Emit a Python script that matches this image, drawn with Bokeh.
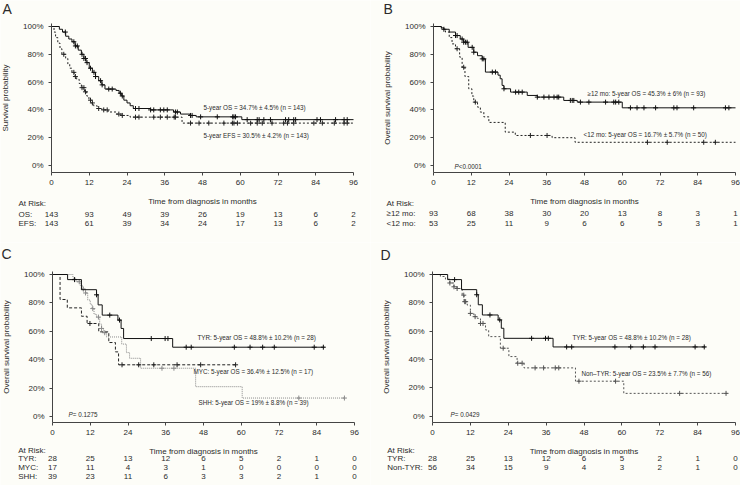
import numpy as np
from bokeh.plotting import figure
from bokeh.models import Range1d, LinearAxis, FixedTicker, NumeralTickFormatter
from bokeh.layouts import column, row
from bokeh.embed import file_html
from bokeh.resources import INLINE
from bokeh.core.properties import value

# ---------------- data ----------------
month_ticks = [0, 12, 24, 36, 48, 60, 72, 84, 96]
pct_ticks = [0, 0.2, 0.4, 0.6, 0.8, 1.0]

# Panel A: OS and EFS, whole cohort
a_os_t = [0, 2.5, 3.5, 4.5, 5.5, 6.5, 7.5, 8.5, 9.5, 10.3, 11, 12, 13, 14, 15, 16, 17, 20.5, 21.5, 22.3, 23, 24, 25, 26, 31.5, 38.8, 41, 44, 46, 60.5]
a_os_s = [1.0, 0.98, 0.96, 0.93, 0.91, 0.89, 0.86, 0.83, 0.80, 0.77, 0.74, 0.70, 0.67, 0.64, 0.61, 0.58, 0.55, 0.54, 0.52, 0.50, 0.47, 0.45, 0.43, 0.41, 0.40, 0.385, 0.37, 0.36, 0.35, 0.33]
a_os_end = 96
a_os_cens = [4.4, 7.1, 7.6, 8.2, 9.7, 10.3, 10.8, 11.3, 12.4, 13.5, 14, 15.6, 16.1, 18.2, 19.3, 21.9, 22.5, 26.7, 27.8, 31.5, 32.5, 34.6, 35.7, 36.8, 39.4, 40, 44.2, 44.7, 47.4, 52.7, 57.6, 58, 58.5, 62.2, 65.4, 66, 67.5, 69.6, 74.4, 75.4, 77, 77.6, 84.4, 85.5, 90.3, 93, 94]
a_efs_t = [0, 0.8, 1.3, 2.0, 2.7, 3.3, 4.5, 5.2, 5.8, 6.5, 7.3, 8.0, 8.8, 9.5, 10.5, 11.2, 11.9, 12.7, 13.4, 14.5, 16.0, 18.0, 20.5, 22.5, 25.0, 41.5]
a_efs_s = [1.0, 0.96, 0.92, 0.88, 0.84, 0.80, 0.77, 0.73, 0.70, 0.67, 0.64, 0.62, 0.59, 0.56, 0.53, 0.50, 0.47, 0.45, 0.43, 0.41, 0.40, 0.385, 0.37, 0.36, 0.348, 0.305]
a_efs_end = 96
a_efs_cens = [3.9, 7.1, 7.6, 9.7, 10.3, 10.8, 12.4, 13.0, 15.0, 16.6, 17.7, 21.4, 22.5, 26.7, 27.8, 32.5, 34.6, 36.8, 39.0, 39.4, 44.2, 46.9, 50.0, 54.8, 57.5, 58.0, 59.1, 63.3, 65.4, 67.0, 70.1, 73.8, 75.0, 77.0, 83.4, 86.1, 89.9, 93.0, 94.0]
a_risk_labels = ["OS:", "EFS:"]
a_risk = [[143, 93, 49, 39, 26, 19, 13, 6, 2],
          [143, 61, 39, 34, 24, 17, 13, 6, 2]]
a_notes = ["5-year OS = 34.7% \u00b1 4.5% (n = 143)", "5-year EFS = 30.5% \u00b1 4.2% (n = 143)"]

# Panel B: by age at diagnosis
b_ge_t = [0, 2.5, 3.3, 5.0, 7.0, 8.5, 9.6, 11.0, 12.8, 14.0, 15.5, 16.5, 20.5, 21.2, 21.8, 22.4, 24.5, 29.8, 33.0, 41.4, 45.7, 60.0]
b_ge_s = [1.0, 0.99, 0.98, 0.96, 0.935, 0.91, 0.887, 0.85, 0.815, 0.79, 0.767, 0.672, 0.65, 0.624, 0.576, 0.552, 0.528, 0.504, 0.492, 0.468, 0.456, 0.415]
b_ge_end = 96
b_ge_cens = [3.3, 7.0, 7.5, 9.1, 9.6, 10.2, 10.7, 12.3, 12.8, 15.5, 16.0, 18.7, 19.7, 22.4, 26.1, 27.1, 28.2, 33.0, 35.1, 36.7, 38.3, 39.3, 39.8, 43.5, 44.1, 44.6, 46.7, 49.4, 54.7, 57.3, 57.9, 58.9, 62.6, 64.7, 66.9, 70.6, 76.4, 77.4, 82.7, 92.8, 93.9]
b_lt_t = [0, 2.5, 3.8, 5.0, 5.9, 7.0, 8.3, 9.1, 10.0, 11.2, 12.2, 12.8, 14.0, 14.9, 16.0, 17.6, 22.8, 26.0, 37.7, 45.0]
b_lt_s = [1.0, 0.98, 0.96, 0.92, 0.875, 0.84, 0.78, 0.707, 0.64, 0.552, 0.50, 0.456, 0.42, 0.384, 0.35, 0.31, 0.24, 0.216, 0.20, 0.167]
b_lt_end = 96
b_lt_cens = [7.5, 9.6, 13.3, 30.8, 36.1, 68.0, 74.3, 85.9, 89.6]
b_risk_labels = ["\u226512 mo:", "<12 mo:"]
b_risk = [[93, 68, 38, 30, 20, 13, 8, 3, 1],
          [53, 25, 11, 9, 6, 6, 5, 3, 1]]
b_notes = ["\u226512 mo: 5-year OS = 45.3% \u00b1 6% (n = 93)", "<12 mo: 5-year OS = 16.7% \u00b1 5.7% (n = 50)"]
b_p = "<0.0001"

# Panel C: TYR / MYC / SHH
tyr_t = [0, 4.8, 9.2, 14.0, 14.5, 15.8, 20.8, 21.8, 22.6, 38.2]
tyr_s = [1.0, 0.964, 0.893, 0.857, 0.786, 0.714, 0.679, 0.62, 0.549, 0.488]
tyr_end = 86.5
tyr_cens = [7.0, 14.0, 18.2, 21.3, 31.4, 35.8, 36.7, 42.5, 44.1, 57.8, 62.8, 66.8, 70.5, 83.2, 86.1]
myc_t = [0, 2.4, 4.7, 9.2, 11.0, 14.7, 17.9, 20.0, 21.0]
myc_s = [1.0, 0.824, 0.765, 0.706, 0.655, 0.596, 0.521, 0.455, 0.364]
myc_end = 58.2
myc_cens = [11.9, 22.1, 27.4, 32.2, 39.6, 47.1, 58.2]
shh_t = [0, 6.5, 7.5, 8.8, 9.6, 10.5, 11.2, 12.0, 12.6, 13.2, 14.0, 15.0, 15.6, 16.2, 17.2, 22.0, 23.5, 24.5, 28.0, 45.5, 60.3]
shh_s = [1.0, 0.974, 0.949, 0.923, 0.897, 0.87, 0.82, 0.79, 0.76, 0.72, 0.70, 0.65, 0.62, 0.59, 0.56, 0.51, 0.45, 0.41, 0.34, 0.21, 0.13]
shh_end = 93.0
shh_cens = [8.5, 9.8, 10.5, 12.8, 14.6, 15.6, 16.6, 34.8, 38.6, 78.3, 92.8]
c_risk_labels = ["TYR:", "MYC:", "SHH:"]
c_risk = [[28, 25, 13, 12, 6, 5, 2, 1, 0],
          [17, 11, 4, 3, 1, 0, 0, 0, 0],
          [39, 23, 11, 6, 3, 3, 2, 1, 0]]
c_notes = ["TYR: 5-year OS = 48.8% \u00b1 10.2% (n = 28)",
           "MYC: 5-year OS = 36.4% \u00b1 12.5% (n = 17)",
           "SHH: 5-year OS = 19% \u00b1 8.8% (n = 39)"]
c_p = " = 0.1275"

# Panel D: TYR vs non-TYR
ntyr_t = [0, 2.5, 4.1, 5.5, 6.8, 7.8, 9.4, 10.0, 11.0, 12.0, 13.1, 14.2, 15.2, 16.8, 17.8, 21.5, 24.2, 26.8, 29.0, 45.3, 60.6]
ntyr_s = [1.0, 0.986, 0.967, 0.94, 0.913, 0.901, 0.854, 0.808, 0.784, 0.725, 0.702, 0.69, 0.654, 0.608, 0.561, 0.479, 0.42, 0.373, 0.34, 0.246, 0.16]
ntyr_end = 93.4
ntyr_cens = [5.5, 6.8, 7.8, 9.9, 10.2, 10.5, 12.0, 13.5, 15.2, 16.0, 22.4, 27.0, 28.4, 32.5, 35.2, 38.9, 40.0, 46.4, 58.0, 78.3, 93.0]
d_risk_labels = ["TYR:", "Non-TYR:"]
d_risk = [[28, 25, 13, 12, 6, 5, 2, 1, 0],
          [56, 34, 15, 9, 4, 3, 2, 1, 0]]
d_notes = ["TYR: 5-year OS = 48.8% \u00b1 10.2% (n = 28)",
           "Non\u2013TYR: 5-year OS = 23.5% \u00b1 7.7% (n = 56)"]
d_p = " = 0.0429"

# ---------------- styling / layout ----------------
W = 370
BG = "#fdfdf8"
TXT = "#2b2b2b"
FONT = value("Liberation Sans")


def make_panel(ox, oy, h, x0, x96, y100, y0, yaxis_line, ylabel):
    lx0 = x0 - ox
    lx96 = x96 - ox
    ppm = (lx96 - lx0) / 96.0
    ly100 = y100 - oy
    ly0 = y0 - oy
    ppu = ly0 - ly100
    xr = Range1d(-lx0 / ppm, (W - lx0) / ppm)
    yr = Range1d(1 - (h - ly100) / ppu, 1 + ly100 / ppu)
    p = figure(width=W, height=h, x_range=xr, y_range=yr,
               x_axis_location=None, y_axis_location=None,
               min_border=0, toolbar_location=None, output_backend="svg",
               background_fill_color=BG, border_fill_color=BG,
               outline_line_color=None)
    p.grid.visible = False

    def mx(X):
        return (X - x0) / (x96 - x0) * 96.0

    def sy(Y):
        return (y0 - Y) / (y0 - y100)

    axy = sy(yaxis_line)
    xax = LinearAxis(fixed_location=axy, bounds=(0, 96),
                     ticker=FixedTicker(ticks=month_ticks),
                     axis_label="Time from diagnosis in months")
    yax = LinearAxis(fixed_location=0, bounds=(axy, 1.02),
                     ticker=FixedTicker(ticks=pct_ticks),
                     formatter=NumeralTickFormatter(format="0%"),
                     axis_label=ylabel)
    for ax in (xax, yax):
        ax.axis_line_color = "#444444"
        ax.major_tick_line_color = "#444444"
        ax.minor_tick_line_color = None
        ax.major_tick_in = 0
        ax.major_tick_out = 3
        ax.major_label_text_font = "Liberation Sans"
        ax.major_label_text_font_size = "8px"
        ax.major_label_text_color = TXT
        ax.axis_label_text_font = "Liberation Sans"
        ax.axis_label_text_font_size = "8px"
        ax.axis_label_text_font_style = "normal"
        ax.axis_label_text_color = TXT
    xax.major_label_standoff = 4
    xax.axis_label_standoff = 9
    yax.major_label_standoff = 5
    yax.axis_label_standoff = 10
    p.add_layout(xax, "below")
    p.add_layout(yax, "left")
    return p, mx, sy


def km(p, t, s, end, cens, color, dash, width=1.0):
    xs = list(t) + [end]
    ys = list(s) + [s[-1]]
    p.step(xs, ys, mode="after", line_color=color, line_dash=dash, line_width=width)
    ta = np.array(t, dtype=float)
    sa = np.array(s, dtype=float)
    idx = np.searchsorted(ta, np.array(cens, dtype=float), side="right") - 1
    p.scatter(cens, sa[idx], marker="cross", size=5, line_color=color, line_width=1)


def txt(p, x, y, t, size="6.3px", align="left", style="normal", color=TXT, xoff=0):
    p.text(x=[x], y=[y], text=[t], text_font=FONT, text_font_size=size,
           text_align=align, text_baseline="middle", text_color=color,
           text_font_style=style, x_offset=xoff)


def risk_table(p, mx, sy, lx, y_head, labels, rows, ys):
    txt(p, mx(lx), sy(y_head), "At Risk:", size="8px")
    for lab, vals, yy in zip(labels, rows, ys):
        txt(p, mx(lx), sy(yy), lab, size="8px")
        p.text(x=month_ticks, y=[sy(yy)] * len(vals), text=[str(v) for v in vals],
               text_font=FONT, text_font_size="8px", text_align="center",
               text_baseline="middle", text_color=TXT)


H_TOP, H_BOT = 242, 243
OY_BOT = 242

# ---- Panel A
pa, mxa, sya = make_panel(0, 0, H_TOP, 51, 353, 26, 165, 172, "Survival probability")
km(pa, a_efs_t, a_efs_s, a_efs_end, a_efs_cens, "#222222", "2 2")
km(pa, a_os_t, a_os_s, a_os_end, a_os_cens, "#111111", "solid")
txt(pa, mxa(2), sya(8), "A", size="14px")
txt(pa, mxa(203), sya(107), a_notes[0])
txt(pa, mxa(203), sya(135), a_notes[1])
risk_table(pa, mxa, sya, 18, 203, a_risk_labels, a_risk, [214, 223])

# ---- Panel B
pb, mxb, syb = make_panel(370, 0, H_TOP, 433, 735, 26, 165, 172, "Overall survival probability")
km(pb, b_lt_t, b_lt_s, b_lt_end, b_lt_cens, "#222222", "2 2")
km(pb, b_ge_t, b_ge_s, b_ge_end, b_ge_cens, "#111111", "solid")
txt(pb, mxb(383), syb(8), "B", size="14px")
txt(pb, mxb(587), syb(93), b_notes[0])
txt(pb, mxb(583), syb(134), b_notes[1])
txt(pb, mxb(454), syb(165.5), "P", style="italic")
txt(pb, mxb(454), syb(165.5), b_p, xoff=4.2)
risk_table(pb, mxb, syb, 386, 203.3, b_risk_labels, b_risk, [213.3, 222.7])

# ---- Panel C
pc, mxc, syc = make_panel(0, OY_BOT, H_BOT, 52, 354, 274, 416, 422, "Overall survival probability")
km(pc, shh_t, shh_s, shh_end, shh_cens, "#8a8a8a", "1 1")
km(pc, myc_t, myc_s, myc_end, myc_cens, "#222222", "3 2")
km(pc, tyr_t, tyr_s, tyr_end, tyr_cens, "#111111", "solid")
txt(pc, mxc(1), syc(253), "C", size="14px")
txt(pc, mxc(197), syc(336.5), c_notes[0])
txt(pc, mxc(193), syc(370.5), c_notes[1])
txt(pc, mxc(198), syc(401.7), c_notes[2])
txt(pc, mxc(68), syc(414), "P", style="italic")
txt(pc, mxc(68), syc(414), c_p, xoff=4.2)
risk_table(pc, mxc, syc, 17.7, 450, c_risk_labels, c_risk, [458.3, 467, 476])

# ---- Panel D
pd_, mxd, syd = make_panel(370, OY_BOT, H_BOT, 432, 735, 274, 415.5, 422, "Overall survival probability")
km(pd_, ntyr_t, ntyr_s, ntyr_end, ntyr_cens, "#555555", "2 2")
km(pd_, tyr_t, tyr_s, tyr_end, tyr_cens, "#111111", "solid")
txt(pd_, mxd(380), syd(254), "D", size="14px")
txt(pd_, mxd(572), syd(337), d_notes[0])
txt(pd_, mxd(581), syd(372.5), d_notes[1])
txt(pd_, mxd(450), syd(414), "P", style="italic")
txt(pd_, mxd(450), syd(414), d_p, xoff=4.2)
risk_table(pd_, mxd, syd, 386.7, 450, d_risk_labels, d_risk, [458.3, 467])

layout = column(row(pa, pb), row(pc, pd_))
open("out.html", "w").write(file_html(layout, INLINE))
